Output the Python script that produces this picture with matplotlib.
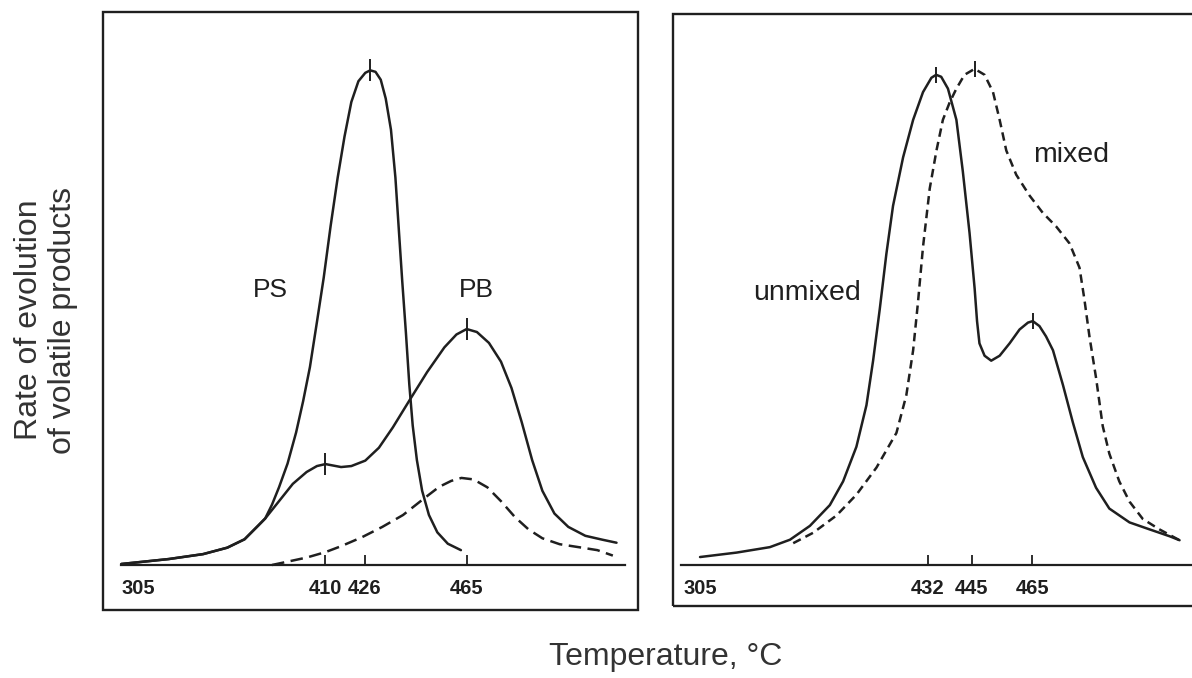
import matplotlib
matplotlib.use("Agg")
import matplotlib.pyplot as plt
import numpy as np
from matplotlib.patches import Rectangle

# ---------------- data (temperature in degC, relative rate) ----------------
# Left panel: pure polymers (PS, PB) and dashed curve
ps_T = [305, 329.4, 347.1, 359.5, 368.4, 375.5, 379, 382.5, 386.1, 390.5, 394.9, 398.5,
        402.0, 405.6, 409.1, 412.1, 415.0, 417.8, 420.6, 423.5, 426.3, 428.2, 430.2,
        432.2, 434.1, 436.1, 437.8, 439.1, 440.4, 441.8, 443.1, 444.4, 446.0, 448.0,
        450.6, 453.8, 457.8, 462.8]
ps_y = [0.2, 1.2, 2.2, 3.5, 5.2, 8.0, 9.4, 12.2, 15.7, 20.5, 26.8, 33.1,
        40.0, 49.1, 58.1, 68.5, 78.3, 86.6, 93.6, 97.8, 99.5, 100.0, 99.7,
        98.1, 94.3, 88.0, 78.3, 67.8, 57.4, 47.0, 36.5, 28.2, 21.2, 15.0,
        10.1, 6.6, 4.3, 3.0]

pb_T = [305, 329.4, 347.1, 359.5, 368.4, 375.5, 379, 386.1, 393.2, 400.3, 405.6, 410,
        416.4, 420.6, 426.3, 431.5, 436.8, 443.3, 449.9, 456.5, 461.1, 465, 468.9,
        473.5, 478.1, 482.1, 486.0, 490.0, 493.9, 498.5, 503.8, 510.3, 516.9, 522.2]
pb_y = [0.2, 1.2, 2.2, 3.5, 5.2, 8.0, 9.4, 12.9, 16.4, 18.8, 20.0, 20.4,
        19.8, 20.0, 21.1, 23.7, 27.8, 33.4, 39.0, 44.0, 46.6, 47.7, 47.1,
        44.9, 41.1, 35.8, 28.9, 21.2, 15.0, 10.4, 7.7, 5.9, 5.1, 4.5]

dash_T = [382.5, 393.2, 400.3, 410, 416.4, 424.9, 432.8, 440.7, 448.6, 454.5, 459.1,
          463.0, 467.6, 472.9, 478.1, 483.4, 488.6, 493.9, 500.5, 509.0, 514.9, 520.8]
dash_y = [0.0, 0.9, 1.5, 2.6, 3.8, 5.6, 7.7, 10.1, 13.4, 15.8, 17.0,
          17.6, 17.3, 15.7, 12.9, 9.7, 7.2, 5.4, 4.2, 3.5, 3.0, 1.9]

# Right panel: unmixed (solid) and mixed (dashed)
unmixed_T = [305, 325.4, 343.9, 355.1, 366.2, 377.3, 384.7, 392.1, 397.7, 401.4,
             405.1, 408.8, 412.5, 418.1, 423.7, 429.2, 433.0, 434.4, 435.9, 437.9,
             440.4, 442.3, 444.3, 445.9, 446.7, 447.5, 449.2, 451.4, 454.2, 457.5,
             460.8, 463.6, 465.2, 467.4, 469.6, 471.9, 475.2, 478.5, 481.8, 486.2,
             490.6, 497.3, 503.9, 510.6, 513.9]
unmixed_y = [1.7, 2.6, 3.7, 5.2, 8.0, 12.2, 17.0, 24.0, 32.4, 41.4,
             51.8, 63.0, 72.7, 82.5, 90.1, 95.7, 98.6, 99.2, 98.8, 96.4,
             90.1, 79.7, 67.2, 56.0, 49.4, 44.9, 42.4, 41.4, 42.4, 44.9,
             47.7, 49.1, 49.4, 48.4, 46.3, 43.5, 36.5, 28.9, 21.9, 15.7,
             11.5, 8.7, 7.3, 5.9, 5.1]

mixed_T = [356.9, 368.0, 381.0, 392.1, 403.3, 414.4, 419.9, 423.7, 426.4, 429.2,
           432.5, 434.5, 436.4, 438.4, 440.4, 442.8, 445.9, 449.2, 452.0, 454.2,
           456.4, 459.7, 464.1, 468.5, 473.0, 477.4, 480.7, 482.3, 484.0, 486.2,
           488.4, 490.6, 493.9, 497.3, 501.7, 507.2, 513.9]
mixed_y = [4.5, 6.6, 10.1, 14.3, 19.8, 26.8, 34.4, 43.5, 53.2, 64.4,
           76.2, 83.9, 90.1, 93.6, 96.4, 99.2, 100.4, 99.2, 95.7, 90.1,
           83.9, 79.0, 74.8, 71.3, 68.5, 65.1, 60.2, 53.9, 46.3, 37.9,
           28.2, 22.6, 17.0, 12.9, 9.4, 7.3, 5.1]

left_ticks = [305, 410, 426, 465]
right_ticks = [305, 432, 445, 465]
left_tick_labels = ["305", "410", "426", "465"]
right_tick_labels = ["305", "432", "445", "465"]

# peak / shoulder marks (curve, temperature)
left_marks = [("PS", 428.2), ("PB", 410), ("PB", 465)]
right_marks = [("unmixed", 434.4), ("mixed", 445.9), ("unmixed", 465.2)]

x_label = "Temperature, \u00b0C"
y_label = "Rate of evolution\nof volatile products"

# ---------------- layout / style ----------------
INK = "#1f1f1f"
plt.rcParams["font.family"] = ["Liberation Sans", "DejaVu Sans"]
TICK_FONT = ["Liberation Sans Narrow", "Liberation Sans", "DejaVu Sans"]

fig = plt.figure(figsize=(11.92, 6.78), dpi=100)
fig.patch.set_facecolor("white")


def piecewise(xs, ys):
    xs = np.asarray(xs, float)
    ys = np.asarray(ys, float)
    s0 = (ys[1] - ys[0]) / (xs[1] - xs[0])
    s1 = (ys[-1] - ys[-2]) / (xs[-1] - xs[-2])

    def f(v):
        v = np.asarray(v, float)
        out = np.interp(v, xs, ys)
        out = np.where(v < xs[0], ys[0] + (v - xs[0]) * s0, out)
        out = np.where(v > xs[-1], ys[-1] + (v - xs[-1]) * s1, out)
        return out
    return f


def make_panel(rect, ticks, tick_labels, tick_frac, ylim, base_frac,
               curves, marks, mark_ms, texts, first_left):
    ax = fig.add_axes(rect)
    fwd = piecewise(ticks, tick_frac)
    inv = piecewise(tick_frac, ticks)
    ax.set_xscale("function", functions=(fwd, inv))
    ax.set_xlim(float(inv(0.0)), float(inv(1.0)))
    ax.set_ylim(*ylim)
    ax.patch.set_alpha(0)

    data = {}
    for name, T, y, ls in curves:
        data[name] = (T, y)
        ax.plot(T, y, color=INK, lw=1.8, linestyle=ls, solid_capstyle="round",
                solid_joinstyle="round", dash_capstyle="butt")
    for name, T in marks:
        cT, cy = data[name]
        ax.plot([T], [np.interp(T, cT, cy)], marker="|", ms=mark_ms, mew=1.4,
                color=INK, linestyle="none")

    for s in ["top", "left", "right"]:
        ax.spines[s].set_visible(False)
    sp = ax.spines["bottom"]
    sp.set_position(("data", 0))
    sp.set_bounds(float(inv(base_frac[0])), float(inv(base_frac[1])))
    sp.set_linewidth(1.6)
    sp.set_color(INK)
    ax.add_patch(Rectangle((0, 0), 1, 1, transform=ax.transAxes, fill=False,
                           lw=1.7, ec=INK, clip_on=False))

    ax.set_xticks(ticks, tick_labels)
    ax.minorticks_off()
    ax.tick_params(axis="x", direction="in", length=7.5, width=1.3, pad=10,
                   labelsize=14.5, colors=INK)
    ax.tick_params(axis="y", left=False, labelleft=False)
    for lab in ax.get_xticklabels():
        lab.set_fontfamily(TICK_FONT)
        lab.set_fontweight("bold")
    t0 = ax.xaxis.get_major_ticks()[0]
    t0.tick1line.set_visible(False)
    if first_left:
        t0.label1.set_horizontalalignment("left")

    for txt, fx, fy, fs in texts:
        ax.text(fx, fy, txt, transform=ax.transAxes, ha="center", va="center",
                fontsize=fs, color=INK)
    return ax


make_panel([0.0860, 0.1003, 0.4492, 0.8813], left_ticks, left_tick_labels,
           [0.0351, 0.4164, 0.4893, 0.6801], (-9.1, 111.7), (0.0345, 0.9757),
           [("PS", ps_T, ps_y, "-"), ("PB", pb_T, pb_y, "-"),
            ("dash", dash_T, dash_y, (0, (5.0, 2.6)))],
           left_marks, 16,
           [("PS", 0.3137, 0.536, 19), ("PB", 0.6975, 0.536, 19)], True)

make_panel([0.5642, 0.1062, 0.4551, 0.8732], right_ticks, right_tick_labels,
           [0.0507, 0.4710, 0.5519, 0.6630], (-8.2, 111.5), (0.0157, 0.985),
           [("unmixed", unmixed_T, unmixed_y, "-"),
            ("mixed", mixed_T, mixed_y, (0, (3.4, 2.1)))],
           right_marks, 11,
           [("unmixed", 0.247, 0.5287, 20.5), ("mixed", 0.7346, 0.7618, 20.5)], False)

fig.text(0.5583, 0.031, x_label, ha="center", va="center", fontsize=23, color="#333333")
fig.text(0.0385, 0.528, y_label, ha="center", va="center", rotation=90,
         fontsize=23, color="#333333", multialignment="center", linespacing=1.15)

fig.savefig("out.png", dpi=100, facecolor="white")
